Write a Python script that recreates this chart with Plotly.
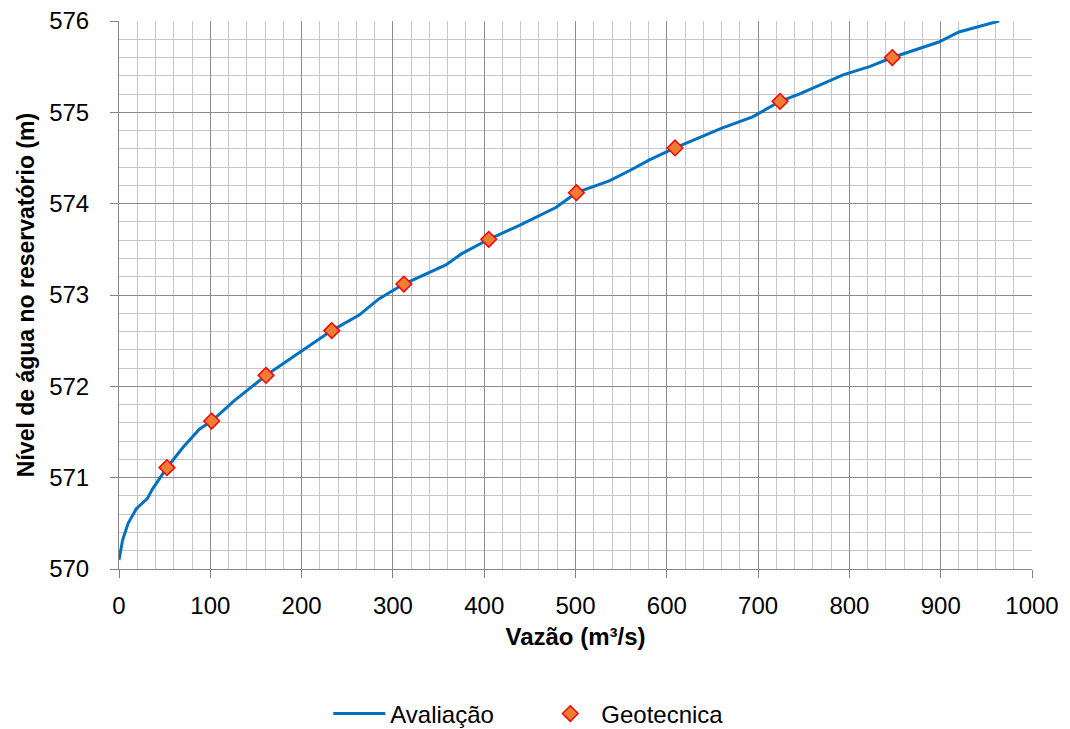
import plotly.graph_objects as go

# Rating curve: discharge (m³/s) vs. reservoir water level (m)
vazao_avaliacao = [0, 4, 10, 19, 31, 37, 52.5, 70, 88, 101.5, 126, 161, 186, 233, 263,
                   285, 312, 358, 375, 405, 438, 479, 501, 537, 559, 581, 609, 661,
                   694, 724, 745, 793, 822, 847, 898, 920, 964]
nivel_avaliacao = [570.10, 570.32, 570.50, 570.66, 570.77, 570.88, 571.11, 571.33, 571.53,
                   571.62, 571.84, 572.12, 572.29, 572.61, 572.78, 572.96, 573.12, 573.33,
                   573.45, 573.61, 573.76, 573.96, 574.12, 574.25, 574.36, 574.48, 574.61,
                   574.83, 574.95, 575.12, 575.20, 575.41, 575.50, 575.60, 575.77, 575.88,
                   576.00]

# Geotechnical reference points
vazao_geotecnica = [52.5, 101.5, 161, 233, 312, 405, 501, 609, 724, 847]
nivel_geotecnica = [571.11, 571.62, 572.12, 572.61, 573.12, 573.61, 574.12, 574.61,
                    575.12, 575.60]

x_ticks = list(range(0, 1001, 100))
y_ticks = list(range(570, 577))

FONT = "Liberation Sans, Arial, sans-serif"

fig = go.Figure()
fig.add_trace(go.Scatter(
    x=vazao_avaliacao, y=nivel_avaliacao, mode="lines", name="Avaliação",
    line=dict(color="#0070C0", width=3),
))
fig.add_trace(go.Scatter(
    x=vazao_geotecnica, y=nivel_geotecnica, mode="markers", name="Geotecnica",
    marker=dict(symbol="diamond", size=12, color="#EE7D35",
                line=dict(color="#FF0000", width=1.5)),
))

axis_common = dict(
    showline=True, linecolor="#868686", linewidth=1,
    ticks="outside", ticklen=8, tickcolor="#868686", tickwidth=1,
    showgrid=True, gridcolor="#8C8C8C", gridwidth=1,
    zeroline=False, mirror=False, automargin=False,
    tickfont=dict(family=FONT, size=24, color="#000000"),
)

fig.update_xaxes(
    range=[0, 1000], tickvals=x_ticks, ticktext=[str(v) for v in x_ticks],
    minor=dict(dtick=20, showgrid=True, gridcolor="#C6C6C6", gridwidth=1.3, ticks=""),
    title=dict(text="<b>Vazão (m³/s)</b>", font=dict(family=FONT, size=24, color="#000000"),
               standoff=10),
    ticklabelstandoff=7,
    **axis_common,
)
fig.update_yaxes(
    range=[570, 576], tickvals=y_ticks, ticktext=[str(v) for v in y_ticks],
    minor=dict(dtick=0.2, showgrid=True, gridcolor="#C6C6C6", gridwidth=1.3, ticks=""),
    title=dict(text="<b>Nível de água no reservatório (m)</b>",
               font=dict(family=FONT, size=23, color="#000000"), standoff=8),
    ticklabelstandoff=16,
    **axis_common,
)

fig.update_layout(
    width=1070, height=729,
    margin=dict(l=119, r=38, t=21, b=160),
    paper_bgcolor="white", plot_bgcolor="white",
    showlegend=True,
    legend=dict(orientation="h", xref="container", x=0.504, xanchor="center",
                yref="container", y=0.0206, yanchor="middle",
                font=dict(family=FONT, size=24, color="#000000"),
                itemwidth=52, entrywidth=144, entrywidthmode="pixels",
                tracegroupgap=0, bgcolor="rgba(0,0,0,0)"),
)

fig.write_html("out.html")
